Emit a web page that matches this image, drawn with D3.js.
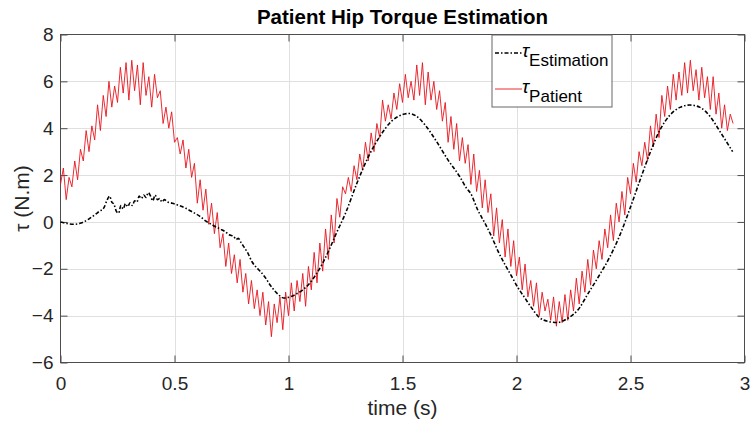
<!DOCTYPE html>
<html>
<head>
<meta charset="utf-8">
<script src="https://cdn.jsdelivr.net/npm/d3@7/dist/d3.min.js"></script>
<style>
    body { margin: 0; background: #fff; }
    svg { display: block; font-family: "Liberation Sans", Arial, sans-serif; }
    .axis path { display: none; }
    .axis line { stroke: #4d4d4d; }
    .axis text { fill: #262626; font-size: 19px; }
    .grid line { stroke: #e0e0e0; shape-rendering: crispEdges; }
</style>
</head>
<body>
<svg width="753" height="428"></svg>
<script>
// ticks
var timeTicks = [0, 0.5, 1, 1.5, 2, 2.5, 3];
var torqueTicks = [-6, -4, -2, 0, 2, 4, 6, 8];

// patient torque, sampled every 0.0125 s from t = 0
var patientStep = 0.0125;
var patientTorque = [
    1.6, 2.3, 0.95, 1.9, 1.5, 2.6, 1.8, 3.1,
    2.6, 3.9, 3.0, 4.1, 3.5, 5.0, 3.9, 5.4,
    4.5, 6.0, 4.9, 5.8, 5.1, 6.6, 5.5, 6.8,
    5.2, 6.9, 5.6, 6.7, 5.0, 6.8, 5.4, 6.2,
    4.9, 6.3, 5.3, 5.6, 4.2, 4.9, 4.0, 4.7,
    3.4, 3.6, 2.9, 3.5, 2.3, 3.1, 1.9, 2.5,
    0.8, 1.8, 0.5, 1.4, -0.1, 0.8, -0.5, 0.4,
    -1.1, -0.5, -1.9, -0.9, -2.2, -1.4, -2.6, -1.6,
    -3.0, -2.2, -3.5, -2.5, -3.7, -2.9, -4.0, -3.0,
    -4.4, -3.4, -4.9, -3.5, -4.3, -3.2, -4.6, -3.0,
    -4.0, -2.6, -3.8, -2.5, -3.4, -2.2, -3.6, -1.9,
    -2.9, -1.3, -2.6, -0.9, -2.1, -0.3, -1.6, 0.3,
    -0.9, 1.0, 0.2, 1.5, 1.2, 1.9, 1.3, 2.4,
    1.8, 2.9, 2.2, 3.4, 2.6, 3.8, 3.0, 4.2,
    3.6, 5.2, 4.3, 5.0, 4.4, 5.5, 4.8, 5.9,
    5.1, 6.3, 5.3, 6.0, 5.2, 6.7, 5.4, 6.8,
    5.0, 6.4, 5.2, 6.0, 4.8, 5.6, 4.3, 5.1,
    3.4, 4.5, 3.1, 4.2, 2.6, 3.6, 2.5, 3.3,
    1.6, 2.9, 1.3, 2.2, 0.6, 1.8, 0.4, 1.2,
    -0.6, 0.6, -0.9, 0.1, -1.5, -0.3, -1.9, -0.8,
    -2.3, -1.5, -2.9, -1.8, -3.2, -2.5, -3.6, -2.6,
    -4.0, -3.0, -3.8, -3.3, -4.2, -3.2, -4.45, -3.4,
    -4.3, -3.1, -4.2, -2.9, -3.8, -2.4, -3.5, -2.1,
    -3.0, -1.6, -2.7, -1.2, -2.0, -0.8, -1.6, -0.3,
    -1.1, 0.3, -0.8, 0.8, 0.0, 1.3, 0.3, 1.9,
    1.2, 2.5, 1.7, 3.0, 2.4, 3.4, 2.6, 4.1,
    3.2, 4.6, 3.6, 5.4, 4.5, 5.8, 4.8, 6.3,
    5.2, 6.4, 5.4, 6.8, 5.5, 6.9, 5.6, 6.5,
    5.2, 6.6, 5.3, 6.2, 4.8, 6.2, 4.6, 5.5,
    4.0, 5.0, 3.9, 4.6, 4.2
];

// estimated torque
var estimationTime = [
    0, 0.03, 0.06, 0.09, 0.12, 0.15, 0.17, 0.19, 0.205, 0.215,
    0.225, 0.235, 0.245, 0.255, 0.265, 0.275, 0.285, 0.295, 0.305, 0.315,
    0.325, 0.335, 0.345, 0.355, 0.365, 0.375, 0.385, 0.395, 0.405, 0.415,
    0.425, 0.435, 0.445, 0.455, 0.47, 0.49, 0.52, 0.55, 0.58, 0.61,
    0.64, 0.67, 0.70, 0.72, 0.74, 0.76, 0.77, 0.78, 0.79, 0.80,
    0.82, 0.84, 0.86, 0.87, 0.88, 0.90, 0.92, 0.95, 0.98, 1.00,
    1.03, 1.06, 1.09, 1.12, 1.15, 1.18, 1.21, 1.25, 1.30, 1.35,
    1.40, 1.45, 1.50, 1.53, 1.56, 1.60, 1.65, 1.70, 1.75, 1.78,
    1.80, 1.83, 1.862, 1.891, 1.92, 1.95, 1.979, 2.008, 2.037, 2.067,
    2.096, 2.14, 2.18, 2.227, 2.27, 2.315, 2.36, 2.41, 2.454, 2.498,
    2.542, 2.585, 2.629, 2.673, 2.717, 2.76, 2.805, 2.85, 2.893, 2.948
];
var estimationTorque = [
    0.0, -0.07, -0.1, -0.05, 0.1, 0.3, 0.45, 0.6, 0.95, 1.1,
    0.85, 0.75, 0.45, 0.38, 0.7, 0.55, 0.78, 0.65, 0.82, 0.7,
    0.9, 0.85, 1.1, 1.0, 1.15, 1.05, 1.25, 1.1, 0.9, 1.15,
    0.95, 1.0, 0.85, 0.95, 0.85, 0.8, 0.7, 0.58, 0.42, 0.25,
    0.02, -0.15, -0.3, -0.4, -0.55, -0.62, -0.75, -0.7, -0.85, -1.0,
    -1.3, -1.7, -1.95, -2.05, -2.15, -2.4, -2.7, -3.05, -3.25, -3.22,
    -3.1, -2.92, -2.65, -2.25, -1.76, -1.15, -0.48, 0.37, 1.65, 2.78,
    3.64, 4.28, 4.58, 4.63, 4.52, 4.13, 3.42, 2.64, 1.95, 1.45,
    1.2, 0.51, -0.06, -0.63, -1.27, -1.83, -2.33, -2.83, -3.25, -3.68,
    -4.04, -4.25, -4.29, -4.1, -3.75, -3.04, -2.33, -1.48, -0.55, 0.58,
    1.79, 2.93, 3.92, 4.56, 4.89, 4.99, 4.89, 4.49, 3.85, 3.0
];

var seriesNames = ["Estimation", "Patient"];

;(function(){

    var svg = d3.select("svg"),
        margin = {top: 34, right: 8, bottom: 65, left: 60},
        g = svg.append("g").attr("transform", "translate(" + margin.left + "," + margin.top + ")");

    var x = d3.scaleLinear().domain([0, 3]).range([0.5, 684.5]);
    var y = d3.scaleLinear().domain([-6, 8]).range([328.5, 0.5]);

    var fmt = d3.format("~g");

    // grid
    g.append("g").attr("class", "grid")
        .selectAll("line").data(timeTicks.slice(1, -1)).enter().append("line")
        .attr("x1", function(d){ return Math.round(x(d)) + 0.5; })
        .attr("x2", function(d){ return Math.round(x(d)) + 0.5; })
        .attr("y1", y(8)).attr("y2", y(-6));
    g.append("g").attr("class", "grid")
        .selectAll("line").data(torqueTicks.slice(1, -1)).enter().append("line")
        .attr("y1", function(d){ return Math.round(y(d)) + 0.5; })
        .attr("y2", function(d){ return Math.round(y(d)) + 0.5; })
        .attr("x1", x(0)).attr("x2", x(3));

    // axes, ticks point inward
    g.append("g").attr("class", "axis")
        .attr("transform", "translate(0," + y(-6) + ")")
        .call(d3.axisBottom(x).tickValues(timeTicks).tickFormat(fmt).tickSizeInner(-7).tickSizeOuter(0).tickPadding(14));
    g.append("g").attr("class", "axis")
        .attr("transform", "translate(0," + y(8) + ")")
        .call(d3.axisTop(x).tickValues(timeTicks).tickSizeInner(-7).tickSizeOuter(0).tickFormat(""));
    g.append("g").attr("class", "axis")
        .attr("transform", "translate(" + x(0) + ",0)")
        .call(d3.axisLeft(y).tickValues(torqueTicks).tickFormat(fmt).tickSizeInner(-7).tickSizeOuter(0).tickPadding(7));
    g.append("g").attr("class", "axis")
        .attr("transform", "translate(" + x(3) + ",0)")
        .call(d3.axisRight(y).tickValues(torqueTicks).tickSizeInner(-7).tickSizeOuter(0).tickFormat(""));

    // box
    g.append("rect")
        .attr("x", x(0)).attr("y", y(8))
        .attr("width", x(3) - x(0)).attr("height", y(-6) - y(8))
        .attr("fill", "none").attr("stroke", "#4d4d4d").attr("stroke-width", 1);

    var line = d3.line()
        .x(function(d){ return x(d[0]); })
        .y(function(d){ return y(d[1]); });

    var patient = patientTorque.map(function(v, i){ return [i * patientStep, v]; });
    var estimation = estimationTime.map(function(t, i){ return [t, estimationTorque[i]]; });

    g.append("path")
        .datum(patient)
        .attr("fill", "none")
        .attr("stroke", "#e8141c")
        .attr("stroke-width", 0.9)
        .attr("stroke-linejoin", "round")
        .attr("d", line);

    g.append("path")
        .datum(estimation)
        .attr("fill", "none")
        .attr("stroke", "#000")
        .attr("stroke-width", 1.6)
        .attr("stroke-dasharray", "4,2,1.5,2")
        .attr("d", d3.line().curve(d3.curveMonotoneX)
            .x(function(d){ return x(d[0]); })
            .y(function(d){ return y(d[1]); }));

    // title and labels
    svg.append("text")
        .attr("x", margin.left + x(1.5)).attr("y", 24)
        .attr("text-anchor", "middle")
        .style("font-size", "20.5px").style("font-weight", "bold").style("fill", "#000")
        .text("Patient Hip Torque Estimation");

    svg.append("text")
        .attr("x", margin.left + x(1.5)).attr("y", 415)
        .attr("text-anchor", "middle")
        .style("font-size", "21px").style("fill", "#262626")
        .text("time (s)");

    svg.append("text")
        .attr("transform", "translate(29," + (margin.top + y(1)) + ") rotate(-90)")
        .attr("text-anchor", "middle")
        .style("font-size", "21px").style("fill", "#262626")
        .text("τ (N.m)");

    // legend
    var legend = svg.append("g").attr("transform", "translate(492,35)");
    legend.append("rect")
        .attr("width", 120).attr("height", 72)
        .attr("fill", "#fff").attr("stroke", "#666").attr("stroke-width", 1);

    var legendStyle = [
        {stroke: "#000", width: 1.6, dash: "4,2,1.5,2"},
        {stroke: "#e8141c", width: 0.9, dash: null}
    ];
    seriesNames.forEach(function(name, i){
        var row = legend.append("g").attr("transform", "translate(0," + (18 + i * 36) + ")");
        row.append("line")
            .attr("x1", 3).attr("x2", 30)
            .attr("stroke", legendStyle[i].stroke)
            .attr("stroke-width", legendStyle[i].width)
            .attr("stroke-dasharray", legendStyle[i].dash);
        var t = row.append("text").attr("x", 30).attr("y", 4)
            .style("font-size", "19px").style("fill", "#000");
        t.append("tspan").style("font-style", "italic").text("τ");
        t.append("tspan").attr("dy", 9).style("font-size", "17px").text(name);
    });

}());
</script>
</body>
</html>
